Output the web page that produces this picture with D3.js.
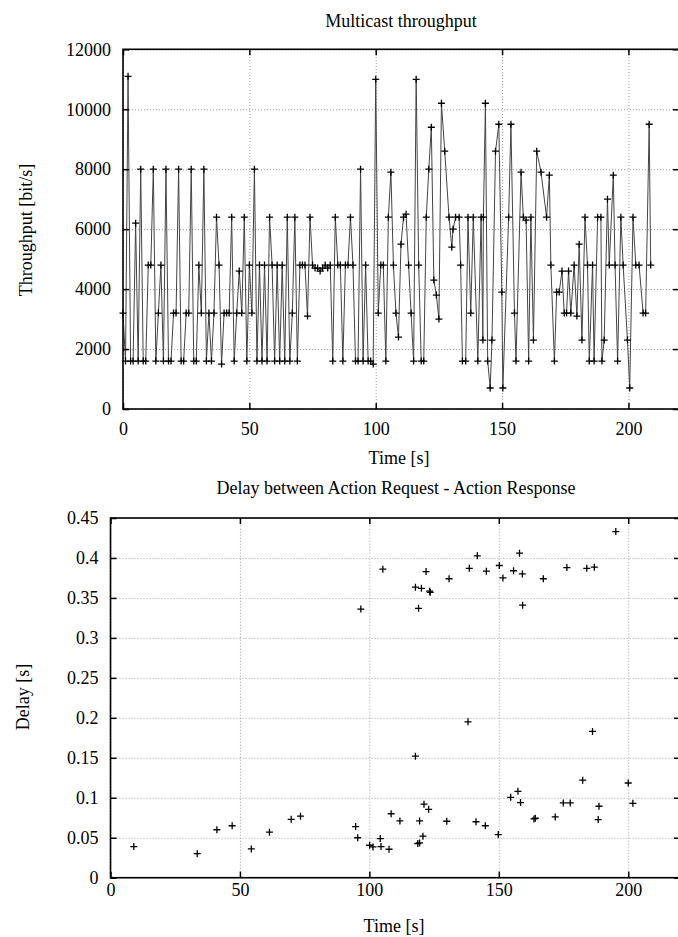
<!DOCTYPE html>
<html>
<head>
<meta charset="utf-8">
<script src="https://cdn.jsdelivr.net/npm/d3@7"></script>
<style>
  body { margin: 0; background: #fff; }
  svg text { font-family: "Liberation Serif", "DejaVu Serif", serif; fill: #000; }
</style>
</head>
<body>
<div id="chart"></div>
<script>
// throughput samples (time in s, value in bit/s)
var tputTime = [0,1,2,3,4,5,6,7,8,9,10,11,12,13,14,15,16,17,18,19,20,21,22,23,24,25,26,27,28,29,
  30,31,32,33,34,35,36,37,38,39,40,41,42,43,44,45,46,47,48,49,50,51,52,53,54,55,56,57,58,59,
  60,61,62,63,64,65,66,67,68,69,70,71,72,73,74,75,76,77,78,79,80,81,82,83,84,85,86,87,88,89,
  90,91,92,93,94,95,96,97,98,99,100,101,102,103,104,105,106,107,108,109,110,111,112,113,114,115,116,117,118,119,
  120,121,122,123,124,125,126,127.3,129,130.1,130.6,131.6,133,133.6,134.3,135.6,136.5,137.6,138.6,
  140.4,141.7,142.4,142.6,143.4,144.3,145.3,146,147.4,148.7,149.9,150.3,152.6,153.5,154.9,155.5,157.5,158.4,159.5,
  160.5,161.4,162.4,163.7,165.4,167.6,168.7,169.3,170.7,171.6,172.6,173.7,174.6,175.5,176.3,177.2,178.5,179.6,
  180.5,181.6,182.8,183.8,184.5,185.8,186.4,187.8,189.1,189.5,190.4,191.7,192.4,194,194.7,195.7,197,197.9,
  199.6,200.5,201.8,202.9,204.2,205.8,206.8,208.2,208.8];
var tputValue = [3200,1600,11100,1600,1600,6200,1600,8000,1600,1600,4800,4800,8000,1600,3200,4800,1600,8000,1600,1600,
  3200,3200,8000,1600,1600,3200,3200,8000,1600,1600,4800,3200,8000,1600,3200,1600,3200,6400,4800,1500,
  3200,3200,3200,6400,1600,3200,4600,3200,6400,1600,4800,3200,8000,1600,4800,1600,4800,1600,6400,4800,
  1600,4800,1600,4800,1600,6400,1600,3200,6400,1600,4800,4800,4800,3100,6400,4800,4700,4700,4600,4700,
  4800,4700,4800,1600,6400,4800,4800,1600,4800,4800,6400,4800,1600,1600,8000,1600,4800,1600,1600,1500,
  11000,3200,4800,4800,1600,6400,7900,4800,3200,2400,5500,6400,6500,4800,3200,1600,11000,4800,1600,1600,
  6400,8000,9400,4300,3800,3000,10200,8600,6400,5400,6000,6400,6400,4800,1600,1600,6400,3200,6400,
  1600,6400,2300,6400,10200,1600,700,2300,8600,9500,3900,700,6400,9500,3200,1600,7900,6400,6300,
  1600,6400,2300,8600,7900,6400,7800,4800,1600,3900,3900,4600,3200,3200,4600,3200,4800,3100,
  5500,2300,6400,4800,1600,4800,1600,6400,6400,1600,2300,7000,4800,7800,4800,1600,6400,4800,
  2300,700,6400,4800,4800,3200,3200,9500,4800];

// delay samples (time in s, delay in s)
var delayTime = [9.0,33.5,41.1,47.0,54.4,61.4,69.8,73.4,94.7,95.5,96.7,100.1,101.4,104.2,104.5,105.2,107.6,108.4,111.8,
  117.8,117.8,118.7,119.0,119.4,119.4,120.1,120.7,121.1,121.9,122.9,123.3,123.5,129.9,130.8,138.1,138.6,141.2,141.7,
  144.8,145.2,149.8,150.2,151.6,154.6,155.7,157.4,158.0,158.4,159.1,159.2,163.6,164.1,167.2,171.8,174.9,176.3,177.6,
  182.4,184.0,186.2,186.9,188.4,188.7,195.2,200.0,201.8];
var delayValue = [0.039,0.030,0.060,0.065,0.036,0.057,0.073,0.077,0.064,0.050,0.336,0.0406,0.0385,0.049,0.039,0.386,0.0356,0.080,0.071,
  0.152,0.3635,0.0428,0.337,0.0435,0.071,0.362,0.052,0.092,0.383,0.0856,0.3585,0.357,0.0706,0.374,0.195,0.387,0.070,0.4027,
  0.065,0.3835,0.054,0.3906,0.375,0.1006,0.384,0.108,0.406,0.094,0.380,0.341,0.0735,0.0744,0.374,0.076,0.0935,0.388,0.0935,
  0.122,0.387,0.183,0.3885,0.0727,0.0894,0.433,0.1185,0.093];

var xTicks = [0,50,100,150,200];
var tputTicks = [0,2000,4000,6000,8000,10000,12000];
var delayTicks = [0,0.05,0.1,0.15,0.2,0.25,0.3,0.35,0.4,0.45];

var W = 678, H = 937;
var FONT = '"Liberation Serif", "DejaVu Serif", serif';
var svg = d3.select("#chart").append("svg").attr("width", W).attr("height", H);

var crossPath = "M-3.5,0H3.5M0,-3.5V3.5";

function drawPanel(opt){
  var left = opt.left, top = opt.top, right = opt.right, bottom = opt.bottom;
  var x = d3.scaleLinear().domain([0,220]).range([left,right]);
  var y = d3.scaleLinear().domain(opt.yDomain).range([bottom,top]);
  var g = svg.append("g");

  // dotted grid
  g.append("g").attr("transform","translate(0,"+bottom+")")
    .call(d3.axisBottom(x).tickValues(xTicks).tickSize(-(bottom-top)).tickFormat(""))
    .call(a => a.select(".domain").remove())
    .selectAll("line").attr("stroke","#888").attr("stroke-dasharray","1,2").attr("stroke-width",0.8);
  g.append("g").attr("transform","translate("+left+",0)")
    .call(d3.axisLeft(y).tickValues(opt.yTicks).tickSize(-(right-left)).tickFormat(""))
    .call(a => a.select(".domain").remove())
    .selectAll("line").attr("stroke","#888").attr("stroke-dasharray","1,2").attr("stroke-width",0.8);

  // data
  if (opt.line){
    g.append("path").datum(opt.t.map((t,i)=>[t,opt.v[i]]))
      .attr("fill","none").attr("stroke","#444").attr("stroke-width",1)
      .attr("d", d3.line().x(d=>x(d[0])).y(d=>y(d[1])));
  }
  g.selectAll("path.pt").data(opt.t.map((t,i)=>[t,opt.v[i]])).enter()
    .append("path").attr("class","pt")
    .attr("transform", d => "translate("+x(d[0])+","+y(d[1])+")")
    .attr("d", crossPath).attr("stroke","#000").attr("stroke-width",1.3).attr("fill","none");

  // inward ticks on four sides and labels
  g.append("g").attr("class","lab").attr("transform","translate(0,"+bottom+")")
    .call(d3.axisBottom(x).tickValues(xTicks).tickSizeInner(-6).tickSizeOuter(0).tickPadding(opt.xPad).tickFormat(d3.format("d")));
  g.append("g").attr("transform","translate(0,"+top+")")
    .call(d3.axisTop(x).tickValues(xTicks).tickSizeInner(-6).tickSizeOuter(0).tickFormat(""));
  g.append("g").attr("class","lab").attr("transform","translate("+left+",0)")
    .call(d3.axisLeft(y).tickValues(opt.yTicks).tickSizeInner(-6).tickSizeOuter(0).tickPadding(12).tickFormat(opt.yFormat));
  g.append("g").attr("transform","translate("+right+",0)")
    .call(d3.axisRight(y).tickValues(opt.yTicks).tickSizeInner(-6).tickSizeOuter(0).tickFormat(""));
  g.selectAll(".lab").attr("font-family", FONT).attr("font-size", 18);
  g.selectAll(".lab text").style("font-family", FONT).style("font-size","18px");
  g.selectAll(".domain").remove();
  g.selectAll(".tick line").filter(function(){ return !this.getAttribute("stroke-dasharray"); })
    .attr("stroke","#000").attr("stroke-width",1.5);

  // border
  g.append("rect").attr("x",left).attr("y",top).attr("width",right-left).attr("height",bottom-top)
    .attr("fill","none").attr("stroke","#000").attr("stroke-width",1.6);

  // titles
  svg.append("text").attr("x",opt.titleX).attr("y",opt.titleY).attr("text-anchor","middle")
    .style("font-size","18px").text(opt.title);
  svg.append("text").attr("x",opt.xLabelX).attr("y",opt.xLabelY).attr("text-anchor","middle")
    .style("font-size","18px").text("Time [s]");
  svg.append("text").attr("transform","translate("+opt.yLabelX+","+opt.yLabelY+") rotate(-90)")
    .attr("text-anchor","middle").style("font-size","18px").text(opt.yLabel);
}

drawPanel({left:123, right:679, top:49.3, bottom:409, yDomain:[0,12000], yTicks:tputTicks,
  yFormat:d3.format("d"), t:tputTime, v:tputValue, line:true, xPad:13,
  title:"Multicast throughput", titleX:401, titleY:26.5, xLabelX:399, xLabelY:464,
  yLabel:"Throughput [bit/s]", yLabelX:32, yLabelY:230});

drawPanel({left:110.5, right:680, top:518, bottom:877.7, yDomain:[0,0.45], yTicks:delayTicks,
  yFormat:d => d === 0 ? "0" : String(+d.toFixed(2)), t:delayTime, v:delayValue, line:false, xPad:6,
  title:"Delay between Action Request - Action Response", titleX:396, titleY:494, xLabelX:394, xLabelY:931.5,
  yLabel:"Delay [s]", yLabelX:29, yLabelY:697});
</script>
</body>
</html>
